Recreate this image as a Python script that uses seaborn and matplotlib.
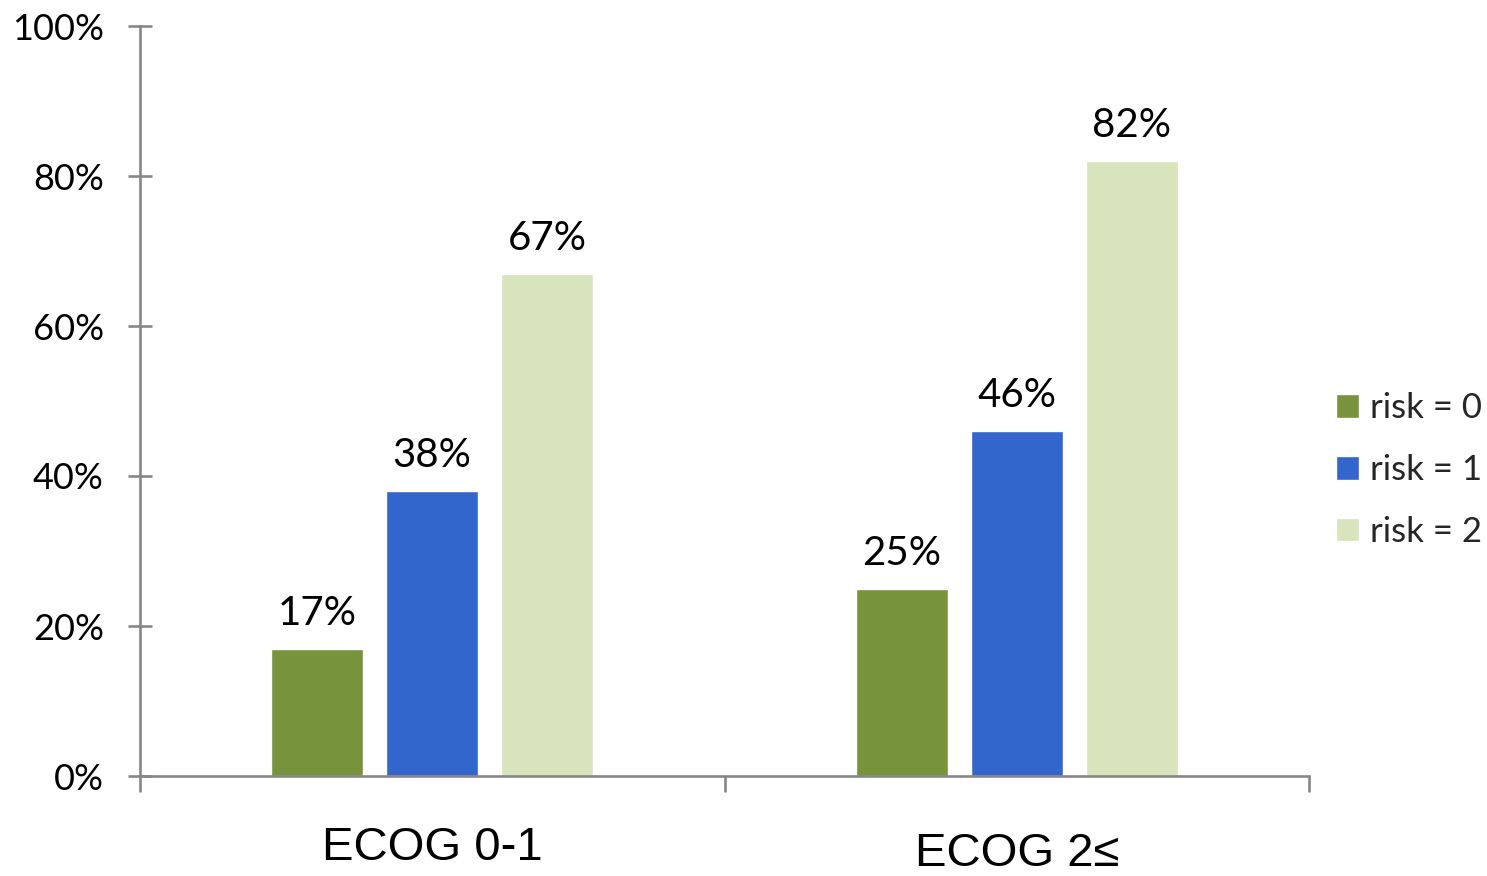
import matplotlib
matplotlib.use("Agg")
import matplotlib.pyplot as plt
import matplotlib.transforms as mtransforms
import seaborn as sns
import pandas as pd

# Proportions (%) by performance status and risk score
groups = ["ECOG 0-1", "ECOG 2≤"]
risk_levels = ["risk = 0", "risk = 1", "risk = 2"]
risk0 = [17, 25]
risk1 = [38, 46]
risk2 = [67, 82]
y_ticks = [0, 20, 40, 60, 80, 100]
colors = ["#77933C", "#3366CC", "#D8E4BC"]

rows = []
for label, vals in zip(risk_levels, [risk0, risk1, risk2]):
    for g, v in zip(groups, vals):
        rows.append({"group": g, "risk": label, "value": v})
df = pd.DataFrame(rows)

sns.set_theme(style="white")
plt.rcParams["font.family"] = ["Lato", "DejaVu Sans"]

fig = plt.figure(figsize=(14.87, 8.76), dpi=100)
ax = fig.add_axes([140 / 1487, 1 - 776 / 876, (1309 - 140) / 1487, (776 - 26) / 876])

sns.barplot(data=df, x="group", y="value", hue="risk", palette=colors,
            saturation=1, width=0.591, gap=0.2, ax=ax, legend=True)

ax.set_ylim(0, 100)
ax.set_xlim(-0.5, 1.5)
ax.set_xlabel("")
ax.set_ylabel("")

spine_color = "#878787"
for side in ["top", "right"]:
    ax.spines[side].set_visible(False)
for side in ["left", "bottom"]:
    ax.spines[side].set_color(spine_color)
    ax.spines[side].set_linewidth(1.9)

ax.set_yticks(y_ticks)
ax.set_yticklabels([f"{t}%" for t in y_ticks])
ax.tick_params(axis="y", direction="inout", length=17, width=1.9, color=spine_color,
               labelsize=26, pad=17.5, labelcolor="black", left=True)

# category labels centred under each group, separator ticks at group edges
ax.set_xticks([0, 1])
ax.set_xticklabels(groups, fontfamily="Liberation Sans", fontsize=34)
ax.tick_params(axis="x", which="major", length=0, pad=36, labelcolor="black")
ax.set_xticks([-0.5, 0.5, 1.5], minor=True)
ax.tick_params(axis="x", which="minor", direction="out", length=11.5, width=1.9,
               color=spine_color, bottom=True)

# the second category label sits a little lower
second = ax.get_xticklabels()[1]
second.set_transform(second.get_transform()
                     + mtransforms.ScaledTranslation(0, -6 / 100, fig.dpi_scale_trans))

for cont in ax.containers:
    ax.bar_label(cont, fmt="{:.0f}%", padding=12, fontsize=29, color="black")

handles, labels = ax.get_legend_handles_labels()
ax.legend(handles, labels, loc="center left",
          bbox_to_anchor=(1336 / 1487, 1 - 470 / 876), bbox_transform=fig.transFigure,
          frameon=False, fontsize=25, handlelength=0.66, handleheight=0.66,
          handletextpad=0.32, labelspacing=0.86, borderpad=0, borderaxespad=0)

fig.savefig("out.png", dpi=100)
